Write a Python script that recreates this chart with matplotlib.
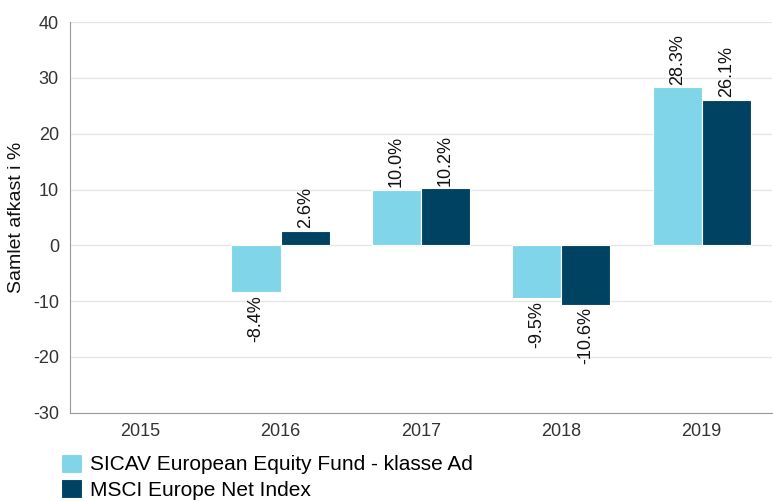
import matplotlib
matplotlib.use("Agg")
import matplotlib.pyplot as plt
import numpy as np

plt.rcParams['font.family'] = ['Liberation Sans', 'DejaVu Sans']
plt.rcParams['axes.unicode_minus'] = False

years = ["2015", "2016", "2017", "2018", "2019"]
fund = [np.nan, -8.4, 10.0, -9.5, 28.3]
index = [np.nan, 2.6, 10.2, -10.6, 26.1]
series_names = ["SICAV European Equity Fund - klasse Ad", "MSCI Europe Net Index"]
colors = ["#80d6e8", "#004262"]


def main():
    fig = plt.figure(figsize=(7.73, 5.01), dpi=100)
    ax = fig.add_axes([0.0906, 0.176, 0.908, 0.780])

    x = np.arange(len(years))
    w = 0.35
    for i, (vals, name, col) in enumerate(zip([fund, index], series_names, colors)):
        pos = x + (i - 0.5) * w
        ax.bar(pos, vals, width=w, color=col, edgecolor="white", linewidth=0.8,
               label=name, zorder=3)
        for p, v in zip(pos, vals):
            if np.isnan(v):
                continue
            off = 0.5 if v >= 0 else -0.5
            ax.text(p, v + off, f"{v:.1f}%", rotation=90, ha="center",
                    va="bottom" if v >= 0 else "top", fontsize=13, color="#111111")

    ax.set_xlim(-0.5, len(years) - 0.5)
    ax.set_ylim(-30, 40)
    ax.set_yticks(range(-30, 41, 10))
    ax.set_xticks(x)
    ax.set_xticklabels(years)
    ax.tick_params(axis="both", length=0, labelsize=13, colors="#333333")
    ax.tick_params(axis="x", pad=7)
    ax.tick_params(axis="y", pad=8)
    ax.grid(axis="y", color="#e6e6e6", linewidth=1, zorder=0)
    for s in ["top", "right"]:
        ax.spines[s].set_visible(False)
    for s in ["left", "bottom"]:
        ax.spines[s].set_color("#999999")
    ax.set_ylabel("Samlet afkast i %", fontsize=14, color="#111111", labelpad=6)

    fig.legend(loc="upper left", bbox_to_anchor=(0.079, 0.094), frameon=False,
               fontsize=15, handlelength=1.0, handleheight=1.0, handletextpad=0.4,
               labelspacing=0.24, borderpad=0, borderaxespad=0)

    fig.savefig("out.png", dpi=100)


if __name__ == '__main__':
    main()
